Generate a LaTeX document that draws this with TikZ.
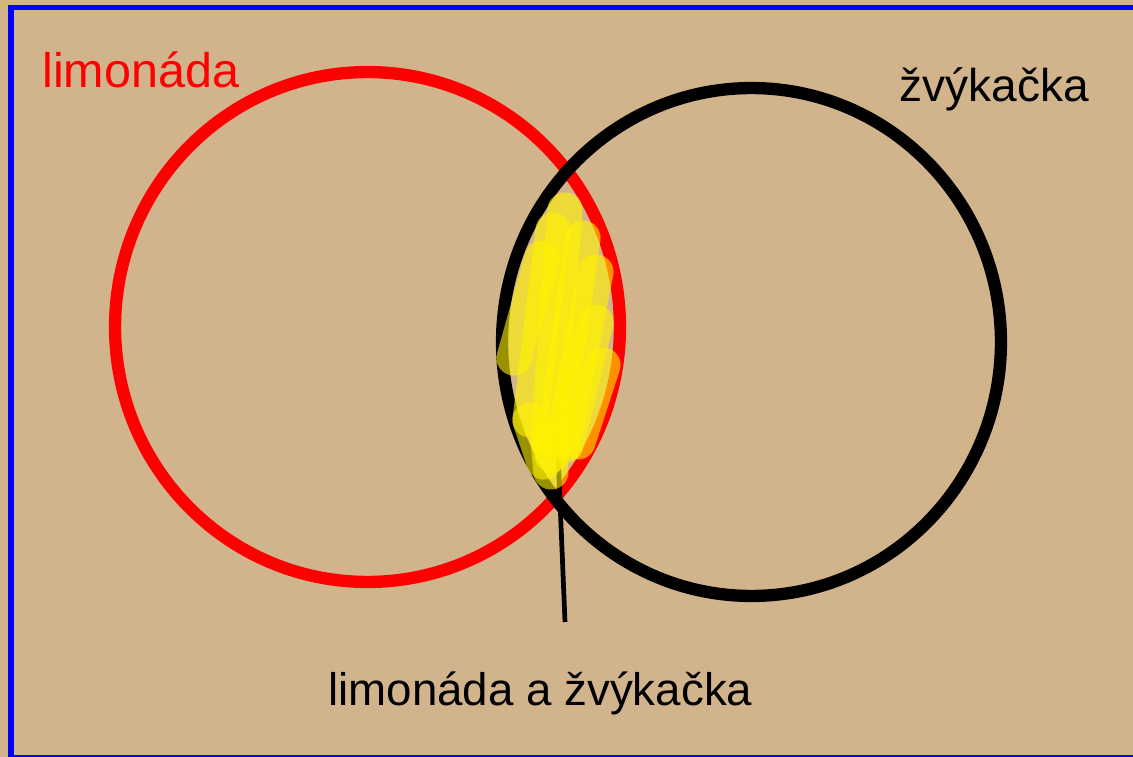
\documentclass[tikz,border=0pt]{standalone}
\usepackage{fontspec}
\setmainfont{Liberation Sans}
\usetikzlibrary{arrows.meta,shapes.geometric}
\definecolor{sand}{RGB}{210,180,140}
\tikzset{
  ring/.style={ellipse, draw, line width=7pt, inner sep=0pt},
  lbl/.style={font=\fontsize{26.2}{30}\selectfont, inner sep=0pt, anchor=base west},
  smear/.style={yellow, opacity=0.6, line width=20pt, line cap=round},
  arr/.style={-{Triangle[length=8.5pt,width=6.5pt]}, line width=2.7pt}}

\begin{document}
\begin{tikzpicture}[x=0.02cm, y=-0.02cm]
  \useasboundingbox (0,0) rectangle (1133,757);
  \fill[sand] (0,0) rectangle (1133,757);
  \draw[blue, line width=3.4pt] (11,7.5) rectangle (1145,758);
  % the two sets
  \node[ring, red, minimum width=10.1cm, minimum height=10.2cm] (lemon) at (367.5,327) {};
  \node[ring, black, minimum width=9.98cm, minimum height=10.16cm] (gum) at (751.5,342) {};
  \node[lbl, red, font=\fontsize{27.6}{30}\selectfont] (lemonlbl) at (42,88) {limonáda};
  \node[lbl] (gumlbl) at (899,102) {žvýkačka};
  \node[lbl, font=\fontsize{26}{30}\selectfont] (bothlbl) at (328,705) {limonáda a žvýkačka};
  % pointer into the overlap
  \coordinate (tail) at (565,622);
  \coordinate (tip) at (557,428);
  \draw[arr] (tail) -- (tip);
  % highlighter strokes
  \foreach \xa/\ya/\xb/\yb in {565/210/548/440, 553/230/530/420, 542/258/514/358,
      583/238/552/455, 596/272/563/440, 596/322/566/445, 603/365/578/442,
      530/420/544/462, 548/440/551/472} {
    \draw[smear] (\xa,\ya) -- (\xb,\yb);
  }
\end{tikzpicture}
\end{document}
